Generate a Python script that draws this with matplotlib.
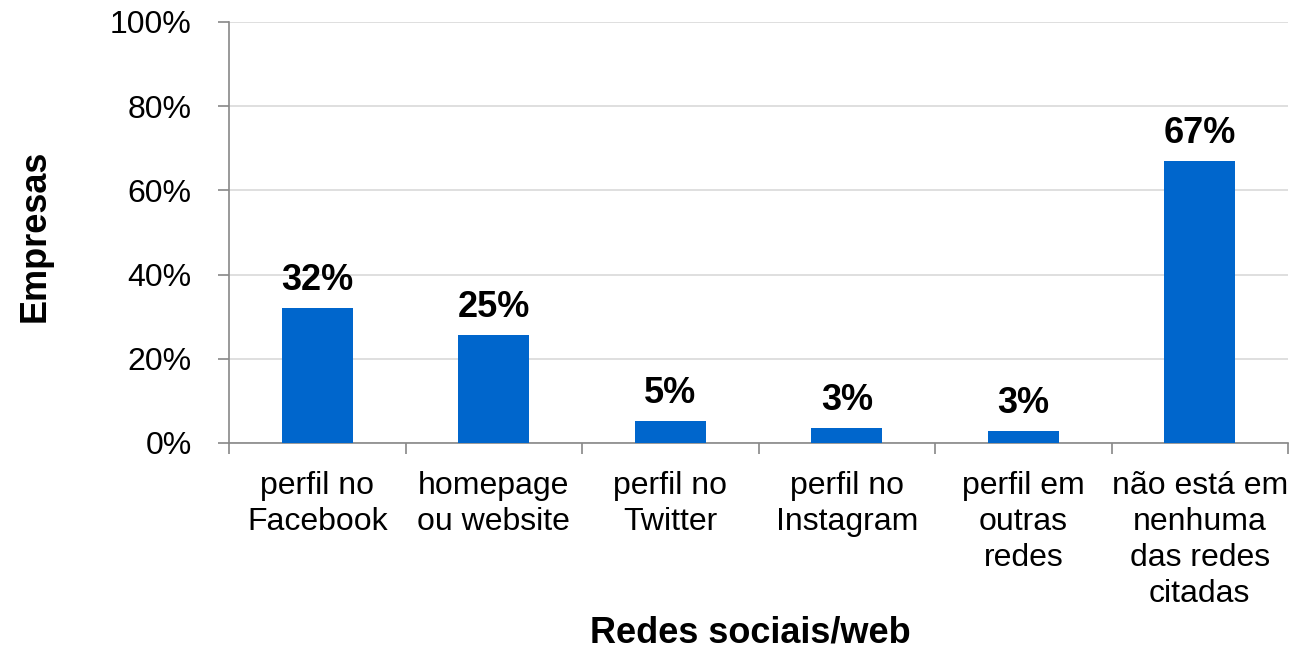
import numpy as np
import matplotlib
matplotlib.use('Agg')
from matplotlib import pyplot as plt

plt.rcParams['font.family'] = ['Liberation Sans', 'DejaVu Sans']

categorias = ['perfil no\nFacebook', 'homepage\nou website', 'perfil no\nTwitter',
              'perfil no\nInstagram', 'perfil em\noutras\nredes',
              'não está em\nnenhuma\ndas redes\ncitadas']
valores = [32.1, 25.6, 5.2, 3.5, 2.9, 67.0]
rotulos = ['32%', '25%', '5%', '3%', '3%', '67%']
yticks = [0, 20, 40, 60, 80, 100]

fig = plt.figure(figsize=(12.91, 6.48), dpi=100)
ax = fig.add_axes([0.1774, 0.3164, 0.8203, 0.6497])

x = np.arange(len(categorias))
ax.bar(x, valores, width=0.4, color='#0066CC', zorder=3)

for xi, v, r in zip(x, valores, rotulos):
    ax.annotate(r, (xi, v), xytext=(0, 13), textcoords='offset points',
                ha='center', va='baseline', fontsize=26, fontweight='bold')

ax.set_xlim(-0.5, len(categorias) - 0.5)
ax.set_ylim(0, 100)
ax.set_yticks(yticks)
ax.set_yticklabels([f'{t}%' for t in yticks], fontsize=23)
ax.set_xticks(x)
ax.set_xticklabels(categorias, fontsize=23, linespacing=1.27)
ax.set_xticks(np.arange(-0.5, len(categorias)), minor=True)
ax.tick_params(axis='x', which='major', length=0, pad=20)
ax.tick_params(axis='x', which='minor', length=8, color='#888888', width=1.2)
ax.tick_params(axis='y', length=8, color='#888888', width=1.2, pad=19)

ax.grid(axis='y', color='#d9d9d9', linewidth=1.2, zorder=0)
for s in ['top', 'right']:
    ax.spines[s].set_visible(False)
for s in ['left', 'bottom']:
    ax.spines[s].set_color('#888888')
    ax.spines[s].set_linewidth(1.2)

fig.text(0.027, 0.636, 'Empresas', fontsize=26, fontweight='bold',
         rotation=90, ha='center', va='center')
fig.text(0.581, 0.009, 'Redes sociais/web', fontsize=26, fontweight='bold',
         ha='center', va='baseline')

fig.savefig('out.png', dpi=100)
